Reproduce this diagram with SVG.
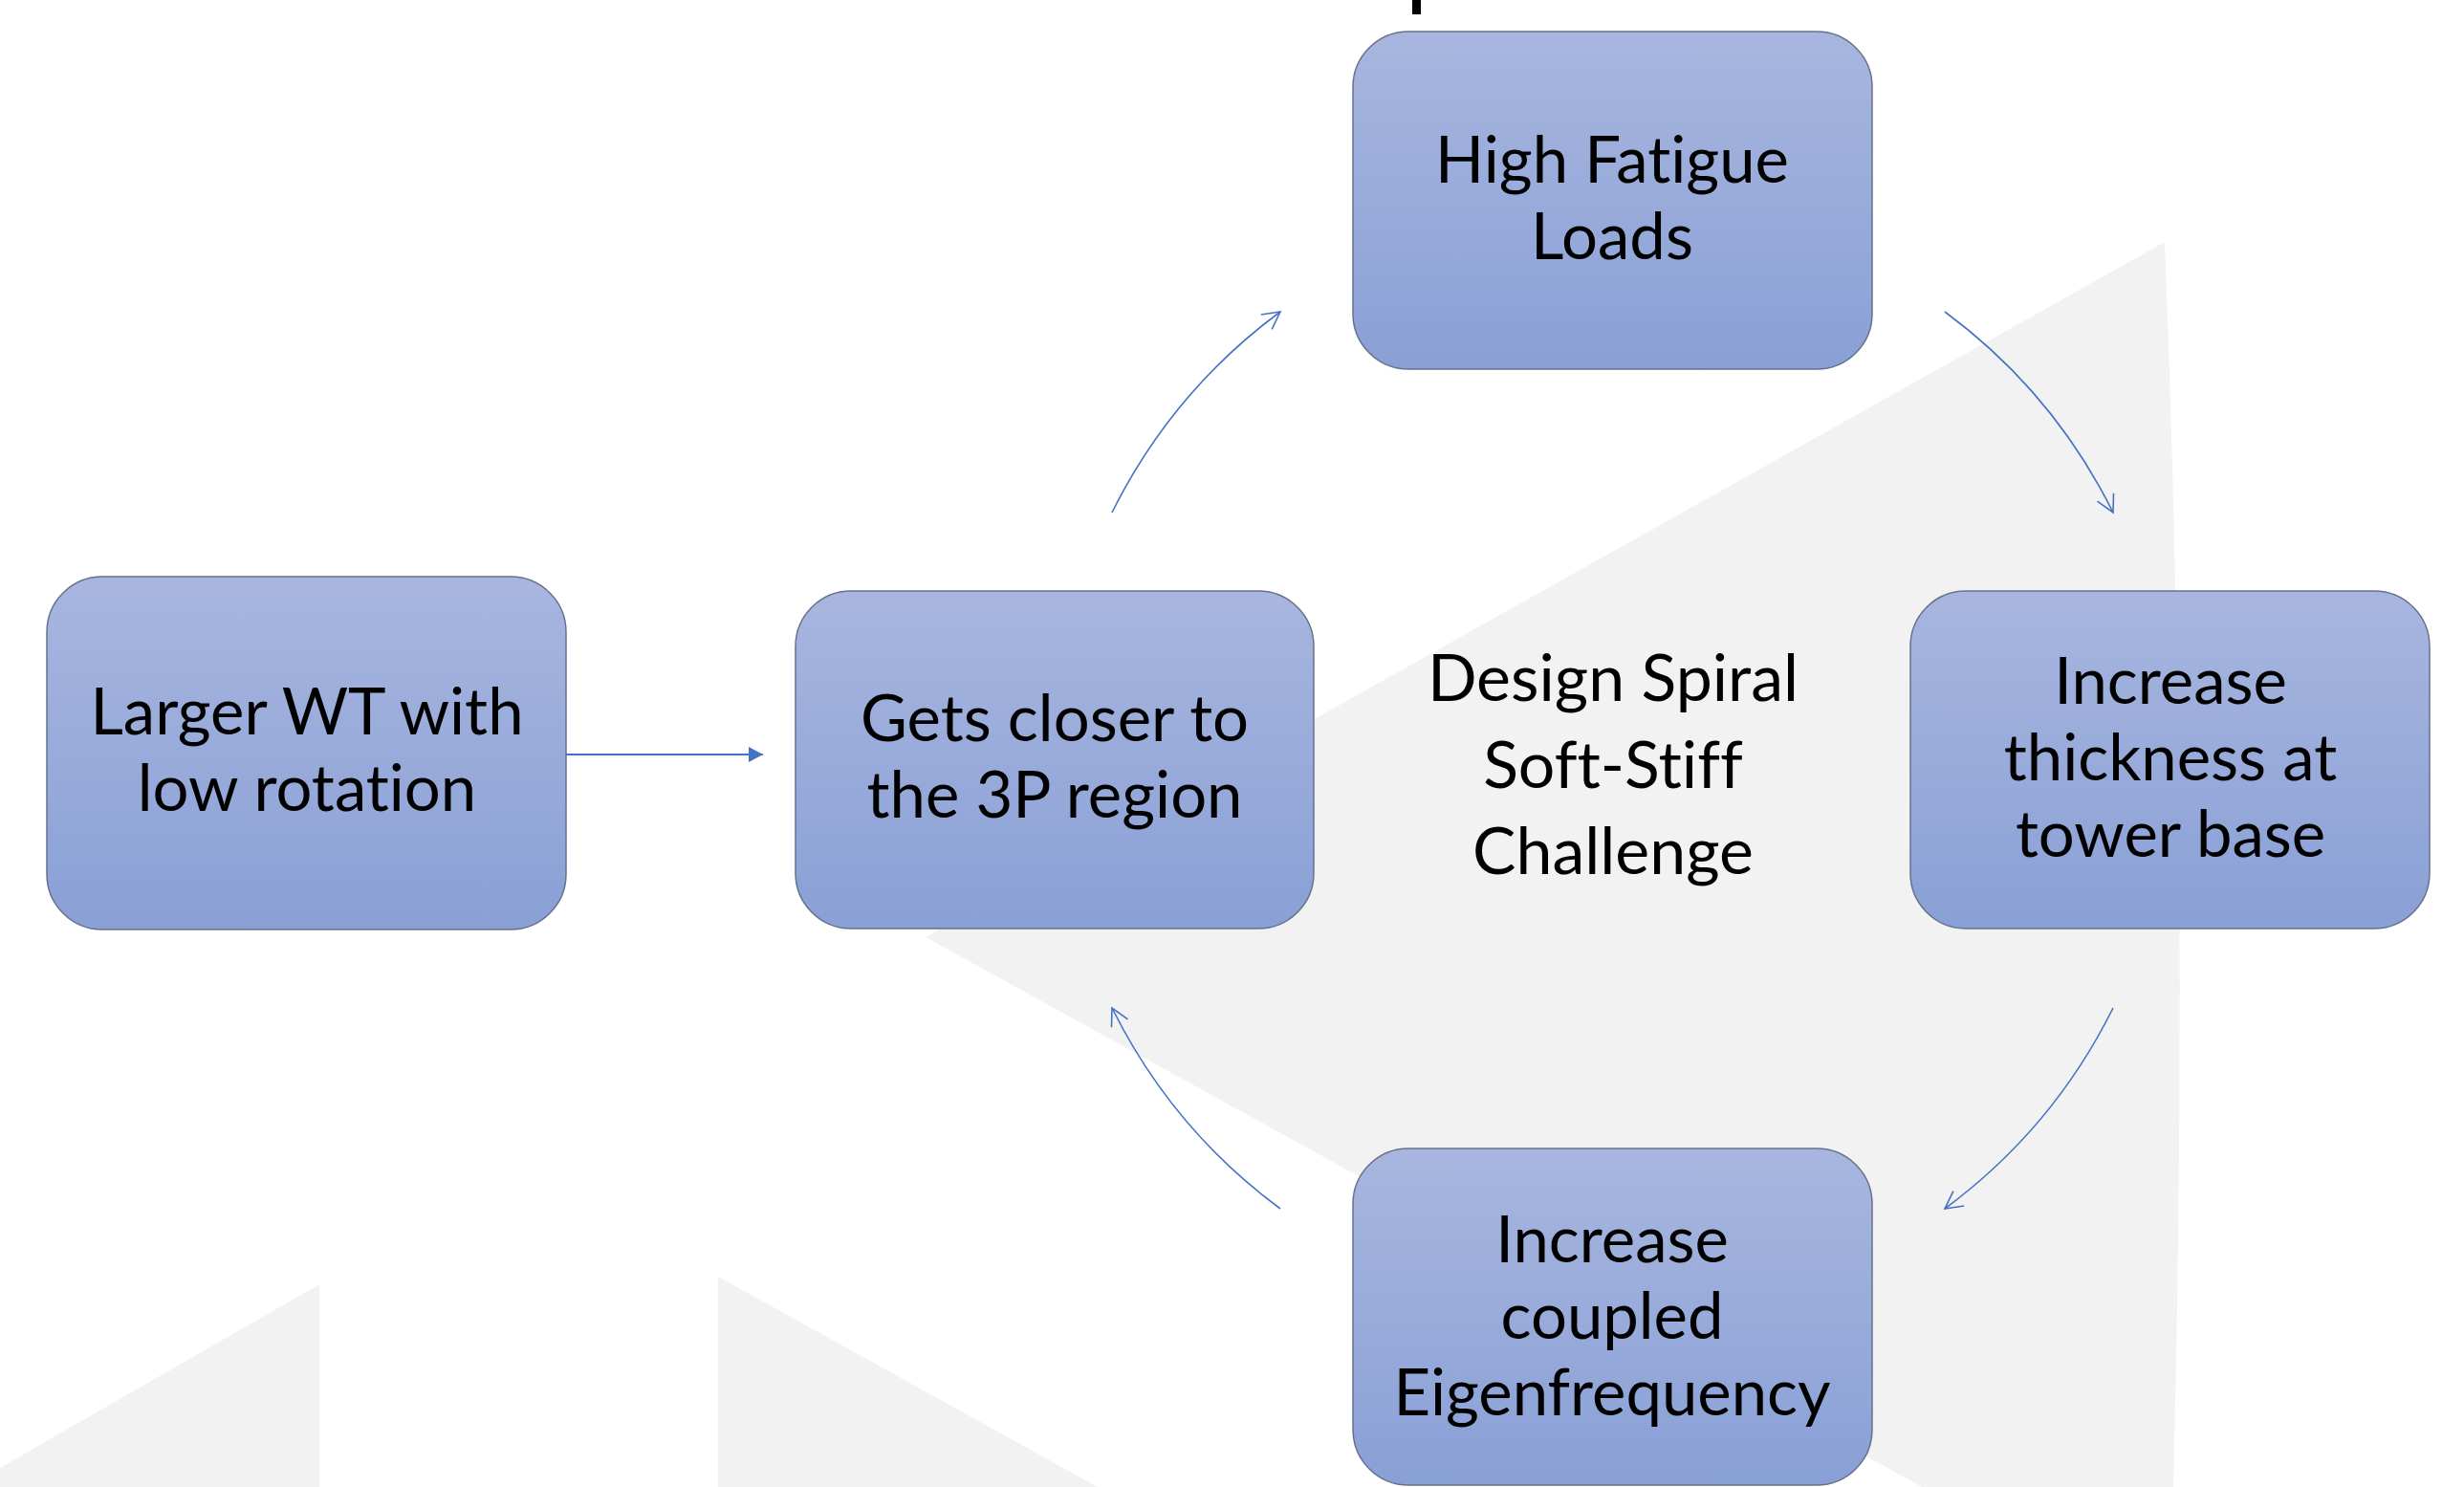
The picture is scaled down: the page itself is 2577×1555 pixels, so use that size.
<svg xmlns="http://www.w3.org/2000/svg" width="2577" height="1555" viewBox="0 0 2577 1555">
  <defs>
    <linearGradient id="boxFill" x1="0" y1="0" x2="0" y2="1">
      <stop offset="0" stop-color="#A8B6DF"/>
      <stop offset="1" stop-color="#89A0D6"/>
    </linearGradient>
    <marker id="openHead" markerUnits="userSpaceOnUse" viewBox="-22 -12 26 24" markerWidth="26" markerHeight="24" refX="0" refY="0" orient="auto">
      <path d="M -18 -9.5 L 0 0 L -18 9.5" fill="none" stroke="#4472C4" stroke-width="1.6"/>
    </marker>
    <marker id="solidHead" markerUnits="userSpaceOnUse" viewBox="-16 -9 18 18" markerWidth="18" markerHeight="18" refX="0" refY="0" orient="auto">
      <path d="M -15 -8 L 0 0 L -15 8 Z" fill="#4472C4"/>
    </marker>
    <style>
      .bg { fill: #F2F2F2; }
      .box { fill: url(#boxFill); stroke: #66718C; stroke-width: 1.5; }
      .label { font-family: Lato, "Liberation Sans", sans-serif; font-size: 67px; fill: #000000; text-anchor: middle; font-variant-ligatures: none; }
      .hub { font-family: Lato, "Liberation Sans", sans-serif; font-size: 68px; fill: #000000; text-anchor: middle; font-variant-ligatures: none; }
      .arc { fill: none; stroke: #4472C4; stroke-width: 1.6; marker-end: url(#openHead); }
      .link { fill: none; stroke: #4472C4; stroke-width: 2; marker-end: url(#solidHead); }
    </style>
  </defs>

  <rect width="2577" height="1555" fill="#FFFFFF"/>

  <!-- watermark shapes behind the cycle -->
  <g id="watermark">
    <path class="bg" d="M 2264 253 L 968 980 L 2010 1555 L 2273 1555 Q 2290 900 2264 253 Z"/>
    <path class="bg" d="M 334 1343 L 334 1555 L 0 1555 L 0 1535 Z"/>
    <path class="bg" d="M 751 1335 L 751 1555 L 1148 1555 Z"/>
    <rect x="1477" y="0" width="9" height="15" fill="#000000"/>
  </g>

  <!-- connectors -->
  <g id="connectors">
    <path class="link" d="M 592 789 L 798 789"/>
    <path class="arc" d="M 1163 536 A 584 584 0 0 1 1339 326"/>
    <path class="arc" d="M 2034 326 A 584 584 0 0 1 2210 536"/>
    <path class="arc" d="M 2210 1054 A 584 584 0 0 1 2034 1264"/>
    <path class="arc" d="M 1339 1264 A 584 584 0 0 1 1163 1054"/>
  </g>

  <g id="node-larger-wt">
    <rect class="box" x="49" y="603" width="543" height="369" rx="58" ry="58"/>
    <text class="label" x="321" y="768">Larger WT with</text>
    <text class="label" x="321" y="848">low rotation</text>
  </g>

  <g id="node-gets-closer">
    <rect class="box" x="832" y="618" width="542" height="353" rx="58" ry="58"/>
    <text class="label" x="1103" y="775">Gets closer to</text>
    <text class="label" x="1103" y="855">the 3P region</text>
  </g>

  <g id="node-high-fatigue">
    <rect class="box" x="1415" y="33" width="543" height="353" rx="58" ry="58"/>
    <text class="label" x="1686" y="191">High Fatigue</text>
    <text class="label" x="1686" y="271">Loads</text>
  </g>

  <g id="node-thickness">
    <rect class="box" x="1998" y="618" width="543" height="353" rx="58" ry="58"/>
    <text class="label" x="2270" y="736">Increase</text>
    <text class="label" x="2270" y="816">thickness at</text>
    <text class="label" x="2270" y="896">tower base</text>
  </g>

  <g id="node-eigenfrequency">
    <rect class="box" x="1415" y="1201" width="543" height="352" rx="58" ry="58"/>
    <text class="label" x="1686" y="1320">Increase</text>
    <text class="label" x="1686" y="1400">coupled</text>
    <text class="label" x="1686" y="1480">Eigenfrequency</text>
  </g>

  <g id="hub-title">
    <text class="hub" x="1687" y="733">Design Spiral</text>
    <text class="hub" x="1687" y="824">Soft-Stiff</text>
    <text class="hub" x="1687" y="914">Challenge</text>
  </g>
</svg>
